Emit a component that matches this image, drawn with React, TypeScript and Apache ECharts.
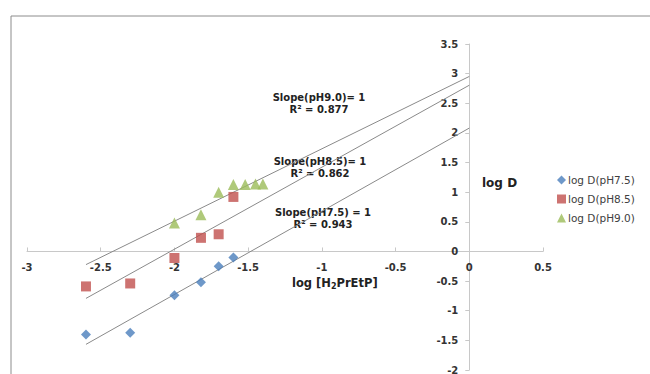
import React, { useEffect, useRef } from "react";
import * as echarts from "echarts";

const X_BASE = [-2.6, -2.3, -2.0, -1.82, -1.7, -1.6];
const Y_PH75 = [-1.4, -1.37, -0.74, -0.52, -0.25, -0.1];
const Y_PH85 = [-0.59, -0.54, -0.11, 0.23, 0.29, 0.92];
const X_PH90 = [-2.0, -1.82, -1.7, -1.6, -1.52, -1.45, -1.4];
const Y_PH90 = [0.48, 0.62, 1.0, 1.13, 1.13, 1.14, 1.14];
const SERIES_NAMES = ["log D(pH7.5)", "log D(pH8.5)", "log D(pH9.0)"];
const TREND_START = -2.6;
const TREND_END = 0;
const X_MIN = -3, X_MAX = 0.5, Y_MIN = -2, Y_MAX = 3.5;

function fit(xs: number[], ys: number[]) {
  const n = xs.length;
  const mx = xs.reduce((a, b) => a + b, 0) / n;
  const my = ys.reduce((a, b) => a + b, 0) / n;
  let sxy = 0, sxx = 0;
  for (let i = 0; i < n; i++) {
    sxy += (xs[i] - mx) * (ys[i] - my);
    sxx += (xs[i] - mx) * (xs[i] - mx);
  }
  const b = sxy / sxx;
  const a = my - b * mx;
  return [
    [TREND_START, a + b * TREND_START],
    [TREND_END, a + b * TREND_END],
  ];
}

const zip = (xs: number[], ys: number[]) => xs.map((x, i) => [x, ys[i]]);

export default function App() {
  const ref = useRef<HTMLDivElement>(null);
  useEffect(() => {
    if (!ref.current) return;
    const chart = echarts.init(ref.current, null, { renderer: "svg" });
    const font = "'DejaVu Sans', Verdana, sans-serif";
    const W = 650, H = 374;
    const G = { left: 27, right: 107, top: 44, bottom: 4 };
    const gw = W - G.left - G.right;
    const gh = H - G.top - G.bottom;
    // shift axes so they cross at the origin (like Excel)
    const xAxisOffset = -((0 - Y_MIN) / (Y_MAX - Y_MIN)) * gh;
    const yAxisOffset = -((0 - X_MIN) / (X_MAX - X_MIN)) * gw;
    const trendStyle = { color: "#8a8a8a", width: 1 };
    const trend = (name: string, data: number[][]) => ({
      name,
      type: "line",
      data,
      symbol: "none",
      silent: true,
      lineStyle: trendStyle,
      z: 1,
    });
    chart.setOption({
      animation: false,
      textStyle: { fontFamily: font },
      grid: { ...G, containLabel: false, outerBoundsMode: "none" },
      xAxis: {
        type: "value",
        min: X_MIN,
        max: X_MAX,
        interval: 0.5,
        position: "bottom",
        offset: xAxisOffset,
        splitLine: { show: false },
        axisLine: { onZero: false, lineStyle: { color: "#c8c8c8" } },
        axisTick: { show: true, inside: true, length: 4, lineStyle: { color: "#c8c8c8" } },
        axisLabel: { fontSize: 10, fontWeight: "bold", fontFamily: font, color: "#333", margin: 11, showMinLabel: true, showMaxLabel: true },
      },
      yAxis: {
        type: "value",
        min: Y_MIN,
        max: Y_MAX,
        interval: 0.5,
        position: "left",
        offset: yAxisOffset,
        splitLine: { show: false },
        axisLine: { onZero: false, lineStyle: { color: "#c8c8c8" } },
        axisTick: { show: true, length: 4, lineStyle: { color: "#c8c8c8" } },
        axisLabel: { fontSize: 10, fontWeight: "bold", fontFamily: font, color: "#333", margin: 11, showMinLabel: true, showMaxLabel: true },
      },
      legend: {
        data: [
          { name: SERIES_NAMES[0], icon: "diamond" },
          { name: SERIES_NAMES[1], icon: "rect" },
          { name: SERIES_NAMES[2], icon: "triangle" },
        ],
        orient: "vertical",
        left: 557,
        top: 174,
        padding: 0,
        itemWidth: 9,
        itemHeight: 9,
        itemGap: 7,
        textStyle: { fontSize: 10.5, fontFamily: font, color: "#404040", lineHeight: 12, padding: [0, 0, 0, -3] },
      },
      series: [
        trend("t75", fit(X_BASE, Y_PH75)),
        trend("t85", fit(X_BASE, Y_PH85)),
        trend("t90", fit(X_PH90, Y_PH90)),
        {
          name: SERIES_NAMES[0],
          type: "scatter",
          data: zip(X_BASE, Y_PH75),
          symbol: "diamond",
          symbolSize: 10,
          itemStyle: { color: "#4a7ebb" },
          z: 3,
        },
        {
          name: SERIES_NAMES[1],
          type: "scatter",
          data: zip(X_BASE, Y_PH85),
          symbol: "rect",
          symbolSize: 10,
          itemStyle: { color: "#c0504d" },
          z: 3,
        },
        {
          name: SERIES_NAMES[2],
          type: "scatter",
          data: zip(X_PH90, Y_PH90),
          symbol: "triangle",
          symbolSize: 11,
          itemStyle: { color: "#9bbb59" },
          z: 3,
        },
      ],
      graphic: [
        {
          type: "rect",
          shape: { x: 11, y: 16, width: 700, height: 400 },
          style: { fill: "none", stroke: "#8c8c8c", lineWidth: 1 },
          silent: true,
        },
        {
          type: "text",
          x: 319,
          y: 103,
          style: { text: "Slope(pH9.0)= 1\nR² = 0.877", font: `bold 10px ${font}`, fill: "#222", align: "center", verticalAlign: "middle", lineHeight: 12 },
        },
        {
          type: "text",
          x: 320,
          y: 167,
          style: { text: "Slope(pH8.5)= 1\nR² = 0.862", font: `bold 10px ${font}`, fill: "#222", align: "center", verticalAlign: "middle", lineHeight: 12 },
        },
        {
          type: "text",
          x: 323,
          y: 218,
          style: { text: "Slope(pH7.5) = 1\nR² = 0.943", font: `bold 10px ${font}`, fill: "#222", align: "center", verticalAlign: "middle", lineHeight: 12 },
        },
        {
          type: "text",
          x: 482,
          y: 177,
          style: { text: "log D", font: `bold 12px ${font}`, fill: "#222" },
        },
        {
          type: "text",
          x: 292,
          y: 276,
          style: {
            text: "{a|log [H}{s|2}{a|PrEtP]}",
            rich: {
              a: { font: `bold 11.5px ${font}`, fill: "#222" },
              s: { font: `bold 8px ${font}`, fill: "#222", padding: [6, 0, 0, 0] },
            },
          },
        },
      ],
    });
    return () => chart.dispose();
  }, []);
  return <div ref={ref} style={{ width: 650, height: 374, position: "absolute", left: 0, top: 0 }} />;
}
